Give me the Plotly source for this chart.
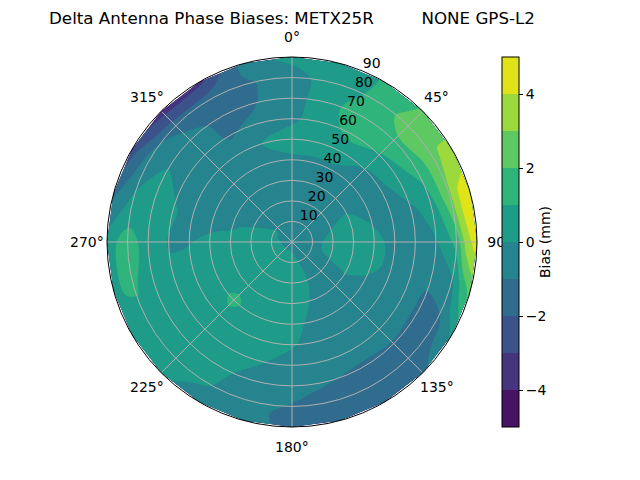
import numpy as np
import plotly.graph_objects as go

# zenith rings (deg) and azimuths (deg, clockwise from north)
zenith = [0, 10, 20, 30, 40, 50, 60, 70, 80, 85, 90]
azimuth = [0, 15, 30, 45, 60, 75, 90, 105, 120, 135, 150, 165,
           180, 195, 210, 225, 240, 255, 270, 285, 300, 315, 330, 345]

# bias (mm), one row per azimuth, one value per zenith
bias_mm = [
    [-0.3, -0.4, -0.4, -0.3, -0.2, 0.5, -0.2, -0.5, -0.4, -0.1, 0.4],      # 0
    [-0.3, -0.4, -0.4, -0.3, -0.2, 0.5, 0.6, 0.8, 0.5, 0.5, 0.6],          # 15
    [-0.3, -0.4, -0.5, -0.5, -0.2, 0.4, 1.3, 1.4, 1.2, 1.1, 1.05],         # 30
    [-0.3, -0.4, -0.5, -0.5, -0.4, -0.05, 0.9, 1.8, 2.5, 2.3, 2.1],        # 45
    [-0.3, -0.4, -0.3, -0.1, -0.5, -0.3, 0.5, 1.3, 2.7, 3.2, 3.3],         # 60
    [-0.3, -0.4, 0.05, 0.4, -0.1, -0.5, -0.2, 0.5, 2.8, 4.2, 4.7],         # 75
    [-0.3, -0.3, 0.3, 0.5, 0.4, -0.4, -0.5, -0.1, 1.3, 3.5, 4.6],          # 90
    [-0.3, -0.3, 0.3, 0.5, 0.3, -0.3, -0.6, -0.95, -0.3, 1.2, 2.5],        # 105
    [-0.3, -0.3, -0.2, 0.05, -0.2, -0.5, -0.7, -1.1, -1.3, -0.7, 0.3],     # 120
    [-0.3, -0.3, -0.4, -0.4, -0.5, -0.5, -0.7, -1.05, -1.4, -1.4, -1.2],   # 135
    [-0.3, -0.2, -0.2, -0.4, -0.5, -0.5, -0.7, -1.1, -1.5, -1.4, -1.3],    # 150
    [-0.3, 0.05, 0.2, 0.05, -0.2, -0.4, -0.6, -0.95, -1.4, -1.4, -1.3],    # 165
    [-0.3, 0.3, 0.4, 0.4, 0.3, 0.1, -0.4, -0.7, -1.05, -1.3, -1.2],        # 180
    [-0.3, 0.4, 0.5, 0.5, 0.5, 0.4, 0.1, -0.4, -0.7, -0.7, -0.75],         # 195
    [-0.3, 0.4, 0.5, 0.5, 0.5, 0.5, 0.4, 0.3, 0.05, -0.2, -0.5],           # 210
    [-0.3, 0.4, 0.5, 0.5, 1.3, 0.5, 0.5, 0.5, 0.4, 0.3, 0.2],              # 225
    [-0.3, 0.4, 0.5, 0.5, 0.5, 0.5, 0.5, 0.5, 0.6, 0.6, 0.4],              # 240
    [-0.3, 0.3, 0.4, 0.4, 0.4, 0.3, 0.1, 0.5, 1.15, 1.1, 0.6],             # 255
    [-0.3, 0.3, 0.3, 0.3, 0.3, -0.05, -0.05, 0.6, 1.4, 1.05, 0.5],         # 270
    [-0.3, 0.1, 0.2, -0.1, -0.4, -0.3, 0.1, 0.4, 0.2, -0.5, -1.2],         # 285
    [-0.3, 0.1, -0.3, -0.5, -0.5, -0.5, -0.3, 0.05, -0.6, -1.5, -2.6],     # 300
    [-0.3, -0.2, -0.4, -0.5, -0.5, -0.5, -0.6, -0.7, -1.3, -2.6, -3.4],    # 315
    [-0.3, -0.3, -0.4, -0.5, -0.5, -0.6, -1.1, -1.2, -1.5, -2.3, -3.3],    # 330
    [-0.3, -0.4, -0.4, -0.3, -0.3, 0.1, -0.5, -1.05, -1.1, -0.8, -0.6],    # 345
]

angle_ticks = [0, 45, 90, 135, 180, 225, 270, 315]
angle_labels = ["0°", "45°", "90°", "135°", "180°", "225°", "270°", "315°"]
radial_ticks = [10, 20, 30, 40, 50, 60, 70, 80, 90]
cbar_ticks = [-4, -2, 0, 2, 4]
# viridis sampled at the middle of each 1 mm band from -5 to 5
band_colors = ["#471365", "#463480", "#3b528b", "#2f6c8e", "#25848e",
               "#1e9c89", "#2fb47c", "#5ec962", "#9bd93c", "#dfe318"]

title = "Delta Antenna Phase Biases: METX25R\u00a0\u00a0\u00a0\u00a0\u00a0\u00a0\u00a0\u00a0\u00a0NONE GPS-L2"

# close the ring; cut it along 315 deg, a ray that crosses every negative level,
# so plotly's edge walk never has to go all the way round the carpet
seam = azimuth.index(315)
az = np.array(azimuth[seam:] + [a + 360 for a in azimuth[:seam + 1]])
z = np.array(bias_mm[seam:] + bias_mm[:seam + 1])
zen = np.array(zenith)
A, B = np.meshgrid(zen, az)
X = A * np.sin(np.radians(B))
Y = A * np.cos(np.radians(B))

# the page puts the plot 8px in from the top-left corner
off = 8
font = "DejaVu Sans"
tick_font = dict(family=font, size=14, color="black")
cx, cy, rad = 292 - off, 242 - off, 185
dom_x = [(cx - rad) / 640, (cx + rad) / 640]
dom_y = [(480 - cy - rad) / 480, (480 - cy + rad) / 480]
# the hidden cartesian frame is wider than the disc so the angle labels fit in it
ext = 110
ext_px = rad * ext / 90
cart_x = [(cx - ext_px) / 640, (cx + ext_px) / 640]
cart_y = [(480 - cy - ext_px) / 480, (480 - cy + ext_px) / 480]
label_r = 90 * 205 / 185  # angular labels sit 20px outside the rim
hidden = dict(showgrid=False, showline=False, showticklabels="none",
              startline=False, endline=False, minorgridcount=0, smoothing=0)

fig = go.Figure()
fig.add_trace(go.Carpet(a=zen, b=az, x=X, y=Y, carpet="c",
                        aaxis=hidden, baxis=hidden))
fig.add_trace(go.Contourcarpet(
    a=zen, b=az, z=z, carpet="c",
    contours=dict(start=-4, end=4, size=1, coloring="fill", showlines=False),
    line=dict(width=0),
    colorscale=[[i / 9, c] for i, c in enumerate(band_colors)],
    zmin=-5, zmax=5,
    colorbar=dict(x=(502 - off) / 640, xanchor="left", y=(480 - cy) / 480, yanchor="middle",
                  len=370 / 480, thickness=17, xpad=0, ypad=0,
                  outlinewidth=1, outlinecolor="black",
                  ticks="outside", ticklen=4, tickcolor="black",
                  tickvals=cbar_ticks, tickfont=tick_font,
                  title=dict(text="Bias (mm)", side="right", font=tick_font)),
))
fig.add_trace(go.Scatterpolar(
    r=radial_ticks, theta=[22.5] * len(radial_ticks), mode="text",
    text=[str(v) for v in radial_ticks], textposition="top right",
    textfont=tick_font, cliponaxis=False, showlegend=False, hoverinfo="skip"))

# angle labels centred 20px outside the rim; the 90° one stays an axis label so
# the colour bar covers its degree sign, as in the original
for t, lab in zip(angle_ticks, angle_labels):
    if t == 90:
        continue
    fig.add_annotation(x=label_r * np.sin(np.radians(t)), y=label_r * np.cos(np.radians(t)),
                       xref="x", yref="y", text=lab, showarrow=False,
                       xanchor="center", yanchor="middle", font=tick_font)

fig.update_layout(
    width=640, height=480,
    margin=dict(l=0, r=0, t=0, b=0),
    paper_bgcolor="white", plot_bgcolor="rgba(0,0,0,0)",
    showlegend=False,
    font=dict(family=font, color="black"),
    title=dict(text=title, x=(292 - off) / 640, xanchor="center", y=1 - (18 - off) / 480,
               yanchor="middle", font=dict(family=font, size=16.7, color="black")),
    xaxis=dict(domain=cart_x, range=[-ext, ext], visible=False),
    yaxis=dict(domain=cart_y, range=[-ext, ext], visible=False),
    polar=dict(
        domain=dict(x=dom_x, y=dom_y),
        bgcolor="rgba(0,0,0,0)",
        radialaxis=dict(range=[0, 90], tickvals=radial_ticks, showticklabels=False,
                        showline=False, ticks="", gridcolor="#b0b0b0", gridwidth=1),
        angularaxis=dict(rotation=90, direction="clockwise", tickvals=angle_ticks,
                         ticktext=[lab if t == 90 else "" for t, lab in zip(angle_ticks, angle_labels)],
                         ticks="outside", ticklen=7, tickcolor="rgba(0,0,0,0)",
                         showline=True, linecolor="black", linewidth=1,
                         gridcolor="#b0b0b0", gridwidth=1, tickfont=tick_font),
    ),
)

fig.write_html("out.html")
